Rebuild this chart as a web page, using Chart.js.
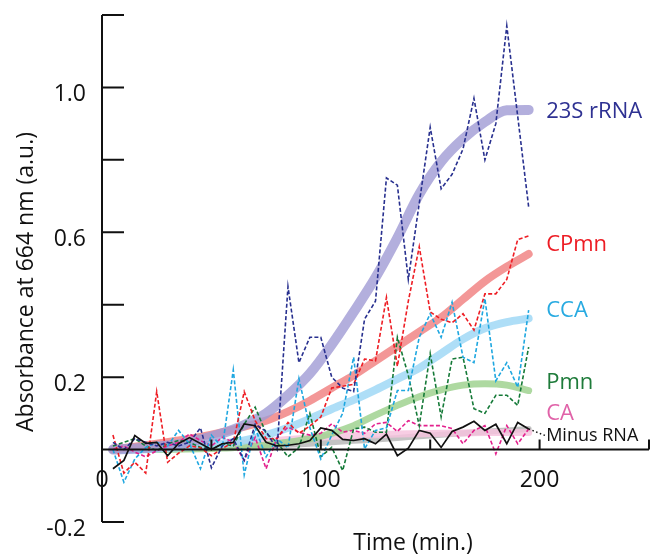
<!DOCTYPE html>
<html>
<head>
<meta charset="utf-8">
<script src="https://cdn.jsdelivr.net/npm/chart.js@4.4.1/dist/chart.umd.min.js"></script>
<style>
  html, body { margin: 0; padding: 0; background: #fff; }
  #wrap { width: 653px; height: 556px; }
</style>
</head>
<body>
<div id="wrap"><canvas id="myChart" width="653" height="556"></canvas></div>
<script>
// time points (min.)
var times = [5, 10, 15, 20, 25, 30, 35, 40, 45, 50, 55, 60, 65, 70, 75, 80, 85, 90, 95, 100,
             105, 110, 115, 120, 125, 130, 135, 140, 145, 150, 155, 160, 165, 170, 175, 180, 185, 190, 195];

// measured absorbance
var rna23S = [0.02, 0.0, 0.03, 0.02, 0.01, 0.02, 0.01, 0.02, 0.06, -0.05, 0.01, 0.03, -0.03, 0.07, 0.05, 0.0, 0.45, 0.24, 0.31, 0.31,
              0.20, 0.17, 0.16, 0.36, 0.41, 0.75, 0.73, 0.47, 0.68, 0.89, 0.72, 0.76, 0.83, 0.97, 0.80, 0.90, 1.17, 0.92, 0.67];
var cpmn   = [0.04, -0.065, -0.035, -0.065, 0.16, -0.035, -0.01, 0.01, 0.005, -0.017, 0.003, 0.02, 0.16, 0.08, 0.03, 0.03, 0.075, 0.045, 0.065, 0.09,
              0.17, 0.175, 0.18, 0.25, 0.245, 0.42, 0.23, 0.41, 0.56, 0.38, 0.36, 0.35, 0.375, 0.33, 0.43, 0.43, 0.47, 0.58, 0.59];
var cca    = [0.0, -0.09, -0.026, 0.006, 0.02, 0.01, 0.053, 0.016, -0.053, 0.04, 0.006, 0.22, -0.07, 0.06, -0.02, 0.03, 0.005, 0.196, 0.06, -0.026,
              0.04, 0.1, 0.255, 0.002, 0.053, 0.06, 0.163, 0.163, 0.31, 0.375, 0.31, 0.407, 0.255, 0.24, 0.417, 0.19, 0.24, 0.172, 0.385];
var pmn    = [0.01, 0.02, 0.03, 0.01, -0.003, 0.016, 0.025, 0.02, 0.006, 0.0, 0.016, 0.01, 0.07, 0.117, 0.045, 0.02, -0.02, 0.006, 0.1, -0.02,
              0.006, -0.058, 0.057, 0.062, 0.048, 0.048, 0.31, 0.205, 0.066, 0.265, 0.09, 0.25, 0.255, 0.113, 0.1, 0.15, 0.15, 0.122, 0.283];
var ca     = [0.0, 0.01, -0.007, -0.02, -0.003, 0.01, 0.02, 0.043, 0.025, 0.01, 0.034, 0.02, -0.03, 0.034, -0.053, 0.034, 0.062, 0.048, 0.04, 0.045,
              0.071, 0.048, 0.053, 0.045, 0.071, 0.075, 0.05, 0.08, 0.066, 0.066, 0.066, 0.058, 0.016, 0.053, 0.066, -0.012, 0.066, 0.016, 0.057];
var minusRna = [-0.053, -0.03, 0.039, 0.017, 0.02, -0.017, 0.017, 0.033, 0.017, 0.0, 0.016, 0.02, 0.071, 0.066, 0.02, 0.01, 0.012, 0.016, 0.025, 0.06,
                0.053, 0.028, 0.025, 0.03, 0.016, 0.043, -0.017, 0.004, 0.053, 0.045, 0.006, 0.05, 0.062, 0.078, 0.053, 0.07, 0.016, 0.075, 0.057];

// fitted curves, sampled every 10 min
var fitTimes = [5, 15, 25, 35, 45, 55, 65, 75, 85, 95, 105, 115, 125, 135, 145, 155, 165, 175, 185, 195];
var fit23S   = [0.0, 0.003, 0.008, 0.015, 0.028, 0.045, 0.068, 0.1, 0.15, 0.21, 0.29, 0.38, 0.475, 0.585, 0.705, 0.795, 0.858, 0.905, 0.937, 0.938];
var fitCPmn  = [0.0, 0.008, 0.016, 0.025, 0.035, 0.048, 0.063, 0.08, 0.105, 0.135, 0.17, 0.205, 0.245, 0.285, 0.325, 0.365, 0.415, 0.465, 0.505, 0.54];
var fitCCA   = [0.0, 0.0, 0.003, 0.006, 0.01, 0.016, 0.025, 0.04, 0.06, 0.085, 0.112, 0.137, 0.165, 0.195, 0.225, 0.265, 0.305, 0.335, 0.352, 0.362];
var fitPmn   = [0.0, 0.0, 0.0, 0.001, 0.002, 0.004, 0.008, 0.013, 0.02, 0.03, 0.045, 0.066, 0.095, 0.122, 0.146, 0.165, 0.178, 0.182, 0.178, 0.163];
var fitCA    = [0.005, 0.007, 0.008, 0.01, 0.012, 0.015, 0.018, 0.023, 0.028, 0.032, 0.036, 0.039, 0.041, 0.043, 0.044, 0.045, 0.046, 0.047, 0.047, 0.047];
var fitMinus = [0.0, 0.001, 0.002, 0.003, 0.004, 0.006, 0.008, 0.01, 0.013, 0.016, 0.02, 0.024, 0.028, 0.032, 0.037, 0.041, 0.045, 0.049, 0.053, 0.057];

// axes
var yTicks = [-0.2, 0, 0.2, 0.4, 0.6, 0.8, 1.0, 1.2];
var yTickLabels = [-0.2, 0.2, 0.6, 1.0];
var xTicks = [50, 100, 150, 200, 250];
var xTickLabels = [0, 100, 200];

var seriesNames = ['23S rRNA', 'CPmn', 'CCA', 'Pmn', 'CA', 'Minus RNA'];

function pts(xs, ys) {
    return xs.map(function (x, i) { return { x: x, y: ys[i] }; });
}

// line, fit, label colour and label nudge (px) per series
var styles = [
    { line: '#28308f', fit: 'rgba(160,155,212,0.8)', text: '#2e3192', fitW: 10, dy: 2 },
    { line: '#ee1d24', fit: 'rgba(240,125,125,0.8)', text: '#ed1c24', fitW: 8, dy: -9 },
    { line: '#1ea7e0', fit: 'rgba(160,216,246,0.85)', text: '#27aae1', fitW: 8, dy: -8 },
    { line: '#157a38', fit: 'rgba(160,210,145,0.85)', text: '#1e7b3a', fitW: 7, dy: -8 },
    { line: '#e3218d', fit: 'rgba(246,196,222,0.85)', text: '#e062a8', fitW: 7, dy: -19 },
    { line: '#111111', fit: 'rgba(185,185,185,0.85)', text: '#111111', fitW: 6, dy: 7 }
];
var measured = [rna23S, cpmn, cca, pmn, ca, minusRna];
var fitted = [fit23S, fitCPmn, fitCCA, fitPmn, fitCA, fitMinus];

var datasets = [];
fitted.forEach(function (f, i) {
    datasets.push({
        label: seriesNames[i] + ' fit',
        data: pts(fitTimes, f),
        borderColor: styles[i].fit,
        borderWidth: styles[i].fitW,
        borderCapStyle: 'round',
        cubicInterpolationMode: 'monotone',
        pointRadius: 0,
        order: 10 + i
    });
});
measured.forEach(function (m, i) {
    var isBlack = i === 5;
    datasets.push({
        label: seriesNames[i],
        data: pts(times, m),
        borderColor: styles[i].line,
        borderWidth: isBlack ? 1.7 : 1.6,
        borderDash: isBlack ? [] : [4, 2.2],
        tension: 0,
        pointRadius: 0,
        order: isBlack ? 0 : 1 + i
    });
});

var FONT = '"Open Sans", "Noto Sans", sans-serif';

// axes, tick marks, titles and series names
var axesPlugin = {
    id: 'axes',
    afterDatasetsDraw: function (chart) {
        var c = chart.ctx, xs = chart.scales.x, ys = chart.scales.y;
        var x0 = xs.getPixelForValue(0), y0 = ys.getPixelForValue(0);
        c.save();
        c.strokeStyle = '#111';
        c.fillStyle = '#111';
        c.lineWidth = 2;
        c.beginPath();
        c.moveTo(x0, ys.getPixelForValue(1.2));
        c.lineTo(x0, ys.getPixelForValue(-0.2));
        c.moveTo(x0, y0);
        c.lineTo(xs.getPixelForValue(250), y0);
        yTicks.forEach(function (v) {
            var p = ys.getPixelForValue(v);
            c.moveTo(x0, p);
            c.lineTo(x0 + 22, p);
        });
        xTicks.forEach(function (v) {
            var p = xs.getPixelForValue(v);
            c.moveTo(p, y0);
            c.lineTo(p, y0 - 10);
        });
        c.stroke();

        c.font = '23px ' + FONT;
        c.textBaseline = 'middle';
        c.textAlign = 'right';
        yTickLabels.forEach(function (v) {
            c.fillText(v.toFixed(1), x0 - 16, ys.getPixelForValue(v) + 7);
        });
        c.textAlign = 'center';
        xTickLabels.forEach(function (v) {
            c.fillText(String(v), xs.getPixelForValue(v), y0 + 31);
        });
        c.fillText('Time (min.)', 413, 543);
        c.save();
        c.translate(26, 282);
        c.rotate(-Math.PI / 2);
        c.fillText('Absorbance at 664 nm (a.u.)', 0, 0);
        c.restore();

        // series names beside the curve ends
        c.textAlign = 'left';
        var lx = xs.getPixelForValue(203);
        fitted.forEach(function (f, i) {
            var y = ys.getPixelForValue(f[f.length - 1]) + styles[i].dy;
            c.font = (i === 5 ? '18px ' : '22px ') + FONT;
            c.fillStyle = styles[i].text;
            c.fillText(seriesNames[i], lx, y);
        });

        // dotted lead from the minus RNA trace to its name
        var last = minusRna.length - 1;
        c.strokeStyle = '#111';
        c.lineWidth = 1.5;
        c.setLineDash([1.5, 2.5]);
        c.beginPath();
        c.moveTo(xs.getPixelForValue(times[last]), ys.getPixelForValue(minusRna[last]));
        c.lineTo(lx, ys.getPixelForValue(fitMinus[fitMinus.length - 1]) + 7);
        c.stroke();
        c.restore();
    }
};

var ctx = document.getElementById('myChart').getContext('2d');
var chart = new Chart(ctx, {
    type: 'line',
    data: { datasets: datasets },
    options: {
        responsive: false,
        animation: false,
        devicePixelRatio: 1,
        layout: { padding: { left: 102, right: 4, top: 15, bottom: 34 } },
        plugins: { legend: { display: false }, tooltip: { enabled: false } },
        scales: {
            x: { type: 'linear', min: 0, max: 250, display: false },
            y: { type: 'linear', min: -0.2, max: 1.2, display: false }
        }
    },
    plugins: [axesPlugin]
});
</script>
</body>
</html>
